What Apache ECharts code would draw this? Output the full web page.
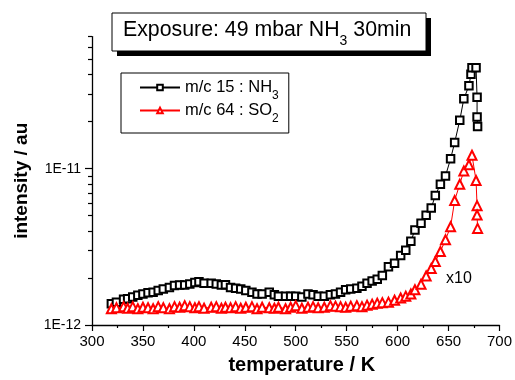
<!DOCTYPE html>
<html><head><meta charset="utf-8">
<script src="https://cdn.jsdelivr.net/npm/echarts@6/dist/echarts.min.js"></script>
<style>html,body{margin:0;padding:0;background:#fff}#c{width:515px;height:380px}</style>
</head><body><div id="c"></div>
<script>
// intensities in units of 1E-12 au
const UNIT = 1e-12;
const tempNH3 = [319,324,331,335,340,345,350,355,360,365,370,376,381,386,391,396,401,405,410,417,422,427,431,436,441,446,451,457,462,467,474,479,483,490,495,500,506,512,517,522,528,534,539,544,549,554,560,565,570,575,580,585,591,597,603,608,613,617,623,628,633,637,642,647,652,656,661,665,670,672,673,677,678,678,678.5];
const nh3 = [1.37,1.40,1.46,1.47,1.51,1.55,1.58,1.61,1.62,1.66,1.70,1.74,1.79,1.80,1.80,1.83,1.87,1.89,1.85,1.85,1.83,1.80,1.81,1.74,1.72,1.70,1.66,1.62,1.58,1.58,1.62,1.56,1.53,1.53,1.53,1.53,1.51,1.58,1.56,1.53,1.53,1.56,1.58,1.62,1.68,1.70,1.72,1.77,1.85,1.91,1.96,2.07,2.36,2.48,2.78,3.01,3.43,4.06,4.47,5.04,5.60,6.73,7.96,8.99,11.56,14.7,20.4,28.0,33.9,40.2,44.3,44.3,28.6,21.4,18.6];
const tempSO2 = [319,324,331,335,340,345,350,355,360,365,370,376,381,386,391,396,401,405,410,417,422,427,431,436,441,446,451,457,462,467,474,479,483,490,495,500,506,512,517,522,528,534,539,544,549,554,560,565,570,575,580,585,591,597,603,608,613,617,623,628,633,637,642,647,652,656,661,665,670,673,677,678,678,678.5];
const so2 = [1.27,1.29,1.31,1.28,1.31,1.27,1.30,1.29,1.27,1.31,1.29,1.27,1.31,1.30,1.33,1.31,1.29,1.31,1.28,1.30,1.31,1.28,1.30,1.29,1.31,1.28,1.30,1.31,1.27,1.30,1.29,1.28,1.30,1.27,1.30,1.33,1.28,1.30,1.31,1.29,1.30,1.33,1.32,1.31,1.30,1.32,1.33,1.31,1.34,1.36,1.38,1.39,1.40,1.44,1.49,1.53,1.58,1.68,1.82,2.06,2.30,2.55,2.95,3.51,4.25,6.26,7.96,9.68,10.6,12.2,8.4,5.8,5.05,4.15];
const xTicks = {min: 300, max: 700, step: 50};
const yMajor = [1e-12, 1e-11];
const yMinor = [2e-12,3e-12,4e-12,5e-12,6e-12,7e-12,8e-12,9e-12,2e-11,3e-11,4e-11,5e-11,6e-11,7e-11];
const yRange = [1e-12, 7e-11];
const seriesNames = ['m/c 15 : NH3', 'm/c 64 : SO2'];

const FONT = 'Liberation Sans';
const zip = (xs, ys) => xs.map((x, i) => [x, ys[i] * UNIT]);

const chart = echarts.init(document.getElementById('c'), null, {renderer: 'canvas'});
chart.setOption({
  animation: false,
  backgroundColor: '#fff',
  grid: {left: 92, right: 13, top: 36.6, bottom: 50, containLabel: false},
  xAxis: {
    type: 'value', min: xTicks.min, max: xTicks.max, interval: xTicks.step,
    name: 'temperature / K', nameLocation: 'middle', nameGap: 30,
    nameTextStyle: {fontFamily: FONT, fontWeight: 'bold', fontSize: 20, color: '#000', padding: [0, 0, 0, 12]},
    axisLine: {lineStyle: {color: '#000', width: 1.3}},
    axisTick: {length: 6, lineStyle: {color: '#000', width: 1.2}},
    minorTick: {show: true, splitNumber: 2, length: 3, lineStyle: {color: '#000', width: 1.2}},
    axisLabel: {fontFamily: FONT, fontSize: 15, color: '#000', margin: 9},
    splitLine: {show: false}
  },
  yAxis: [{
    type: 'log', logBase: 10, min: yRange[0], max: yRange[1],
    name: 'intensity / au', nameLocation: 'middle', nameGap: 61,
    nameTextStyle: {fontFamily: FONT, fontWeight: 'bold', fontSize: 19, color: '#000'},
    axisLine: {show: true, lineStyle: {color: '#000', width: 1.3}},
    axisTick: {show: true, length: 7, customValues: yMajor, lineStyle: {color: '#000', width: 1.2}},
    axisLabel: {customValues: yMajor, fontFamily: FONT, fontSize: 14, color: '#000', margin: 11,
      formatter: v => '1E' + Math.round(Math.log10(v))},
    splitLine: {show: false}
  }, {
    type: 'log', logBase: 10, min: yRange[0], max: yRange[1], position: 'left',
    axisLine: {show: false},
    axisTick: {show: true, length: 4, customValues: yMinor, lineStyle: {color: '#000', width: 1.2}},
    axisLabel: {show: false},
    splitLine: {show: false}
  }],
  legend: {
    data: seriesNames, orient: 'vertical', left: 121, top: 73,
    borderColor: '#000', borderWidth: 1, padding: [6, 10, 8, 18],
    itemGap: 0, itemWidth: 40, itemHeight: 7,
    formatter: n => n === seriesNames[0] ? '{m|m/c 15 : NH}{s|3}' : '{m|m/c 64 : SO}{s|2}',
    textStyle: {fontFamily: FONT, color: '#000',
      rich: {m: {fontFamily: FONT, fontSize: 16.5, color: '#000', height: 16, lineHeight: 27, verticalAlign: 'middle'},
             s: {fontFamily: FONT, fontSize: 12, color: '#000', height: 12, lineHeight: 29, verticalAlign: 'bottom'}}}
  },
  series: [{
    name: seriesNames[0], type: 'line', yAxisIndex: 0, data: zip(tempNH3, nh3),
    symbol: 'emptyRect', symbolSize: 7.5,
    lineStyle: {color: '#000', width: 1},
    itemStyle: {color: '#000', borderWidth: 1.1}
  }, {
    name: seriesNames[1], type: 'line', yAxisIndex: 0, data: zip(tempSO2, so2),
    symbol: 'emptyTriangle', symbolSize: 9,
    lineStyle: {color: '#ff0000', width: 1},
    itemStyle: {color: '#ff0000', borderWidth: 1.1}
  }],
  graphic: [
    {type: 'rect', shape: {x: 117, y: 18, width: 314, height: 38}, style: {fill: '#000'}},
    {type: 'rect', shape: {x: 112, y: 13, width: 314, height: 38}, style: {fill: '#fff', stroke: '#000', lineWidth: 1}},
    {type: 'text', x: 123, y: 18.5, style: {
      text: '{m|Exposure: 49 mbar NH}{s|3}{m| 30min}', fill: '#000',
      rich: {m: {fontFamily: FONT, fontSize: 21.3, height: 24, lineHeight: 24, verticalAlign: 'top', fill: '#000'},
             s: {fontFamily: FONT, fontSize: 14, height: 14, lineHeight: 30, verticalAlign: 'bottom', fill: '#000'}}}},
    {type: 'text', x: 446, y: 271, style: {text: 'x10', fontFamily: FONT, fontSize: 16, fill: '#000'}}
  ]
});
</script></body></html>
